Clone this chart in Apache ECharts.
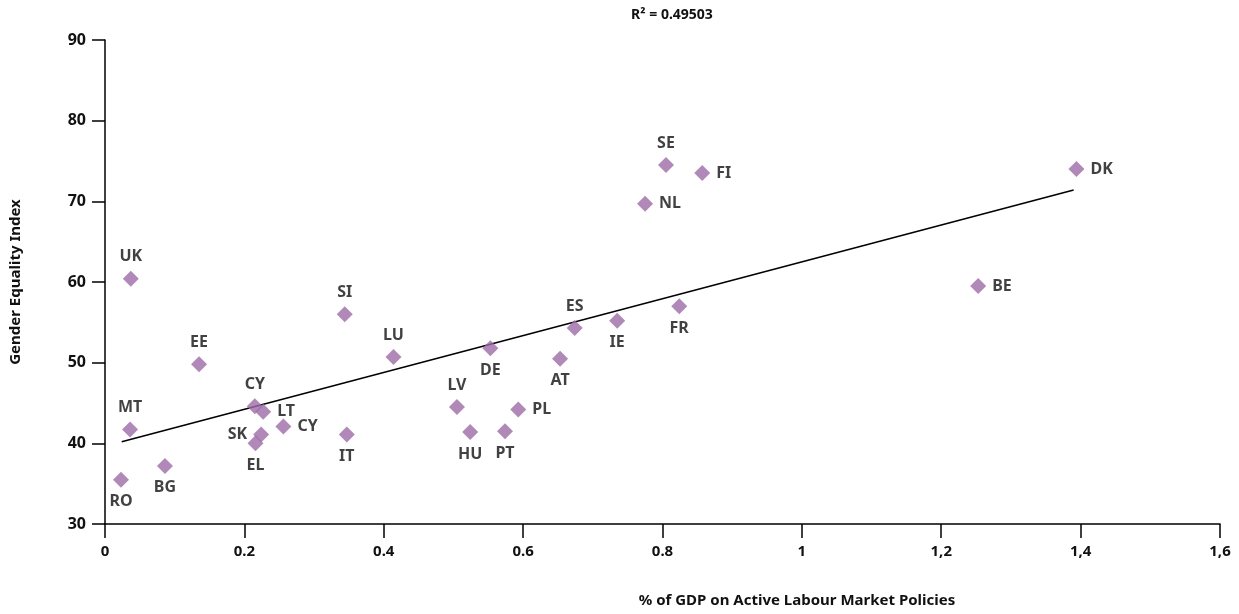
<!DOCTYPE html>
<html>
<head>
<meta charset="utf-8">
<script src="https://cdn.jsdelivr.net/npm/echarts@6/dist/echarts.min.js"></script>
<style>
  html, body { margin: 0; padding: 0; background: #fff; }
  #main { width: 1239px; height: 614px; }
</style>
</head>
<body>
<div id="main"></div>
<script>
// countries, % GDP on ALMP, gender equality index
var countries = ['UK', 'MT', 'RO', 'BG', 'EE', 'CY', 'LT', 'SK', 'EL', 'CY', 'IT', 'SI', 'LU', 'DE', 'ES', 'IE', 'FR', 'AT', 'LV', 'HU', 'PL', 'PT', 'SE', 'FI', 'NL', 'DK', 'BE'];
var gdpShare = [0.037, 0.036, 0.023, 0.086, 0.135, 0.215, 0.227, 0.224, 0.216, 0.256, 0.347, 0.344, 0.414, 0.553, 0.674, 0.735, 0.824, 0.653, 0.505, 0.524, 0.593, 0.574, 0.805, 0.857, 0.775, 1.394, 1.253];
var equalityIndex = [60.4, 41.7, 35.5, 37.2, 49.8, 44.6, 43.9, 41.1, 40.0, 42.1, 41.1, 56.0, 50.7, 51.8, 54.3, 55.2, 57.0, 50.5, 44.5, 41.4, 44.2, 41.5, 74.5, 73.5, 69.7, 74.0, 59.5];

// trend line ends as drawn
var trendX = [0.024, 1.39];
var trendY = [40.2, 71.4];

var xTickLabels = ['0', '0.2', '0.4', '0.6', '0.8', '1', '1,2', '1,4', '1,6'];
var rSquared = 'R² = 0.49503';

// where each label sits next to its marker
var labelPlace = [
  ['top'], ['top', -3, -3], ['bottom', 0, 4], ['bottom', 3, 2], ['top', 0, -3],
  ['top', -3, 0], ['right'], ['left', 0, -7], ['bottom', -7, 0], ['right', 0, 11],
  ['bottom'], ['top'], ['top'], ['bottom'], ['top', 0, -3],
  ['bottom'], ['bottom', 0, 2], ['bottom', 2, 2], ['top'], ['bottom'],
  ['right'], ['bottom', 2, 3], ['top'], ['right'], ['right'], ['right', 4, 0], ['right', 2, 0]
];

var textColor = '#111';
var font = 'Noto Sans';

var points = [];
for (var i = 0; i < countries.length; i++) {
  var p = labelPlace[i];
  points.push({
    name: countries[i],
    value: [gdpShare[i], equalityIndex[i]],
    label: {
      position: p[0],
      offset: [p[1] || 0, p[2] || 0]
    }
  });
}
var trend = [];
for (var j = 0; j < trendX.length; j++) {
  trend.push([trendX[j], trendY[j]]);
}

var myChart = echarts.init(document.getElementById('main'));
var option = {
  animation: false,
  backgroundColor: '#fff',
  grid: {
    left: 105,
    right: 19,
    top: 40,
    bottom: 90,
    outerBoundsMode: 'none'
  },
  xAxis: {
    type: 'value',
    min: 0,
    max: 1.6,
    interval: 0.2,
    axisLine: { show: true, onZero: false, lineStyle: { color: '#000', width: 1.5 } },
    axisTick: { show: true, length: 14, lineStyle: { color: '#000', width: 1.5 } },
    axisLabel: {
      margin: 20,
      color: textColor,
      fontFamily: font,
      fontWeight: 'bold',
      fontSize: 15,
      formatter: function (v) {
        return xTickLabels[Math.round(v / 0.2)];
      }
    },
    splitLine: { show: false }
  },
  yAxis: {
    type: 'value',
    min: 30,
    max: 90,
    interval: 10,
    name: 'Gender Equality Index',
    nameLocation: 'middle',
    nameGap: 82,
    nameTextStyle: {
      color: textColor,
      fontFamily: font,
      fontWeight: 'bold',
      fontSize: 15
    },
    axisLine: { show: true, lineStyle: { color: '#000', width: 1.5 } },
    axisTick: { show: true, length: 13, lineStyle: { color: '#000', width: 1.5 } },
    axisLabel: {
      margin: 19,
      color: textColor,
      fontFamily: font,
      fontWeight: 'bold',
      fontSize: 16
    },
    splitLine: { show: false }
  },
  graphic: [
    {
      type: 'text',
      x: 797,
      y: 601,
      style: {
        text: '% of GDP on Active Labour Market Policies',
        fill: textColor,
        font: 'bold 15px "Noto Sans"',
        textAlign: 'center',
        textVerticalAlign: 'middle'
      }
    },
    {
      type: 'text',
      x: 672,
      y: 15,
      style: {
        text: rSquared,
        fill: textColor,
        font: 'bold 14px "Noto Sans"',
        textAlign: 'center',
        textVerticalAlign: 'middle'
      }
    }
  ],
  series: [
    {
      // 趋势线
      type: 'line',
      data: trend,
      symbol: 'none',
      silent: true,
      lineStyle: { color: '#000', width: 1.5 },
      z: 1
    },
    {
      type: 'scatter',
      data: points,
      symbol: 'diamond',
      symbolSize: [16, 16],
      itemStyle: { color: '#9e6ca6' },
      label: {
        show: true,
        formatter: '{b}',
        distance: 6,
        color: textColor,
        fontFamily: font,
        fontWeight: 'bold',
        fontSize: 16
      },
      labelLayout: { hideOverlap: false },
      z: 2
    }
  ]
};
myChart.setOption(option);
</script>
</body>
</html>
